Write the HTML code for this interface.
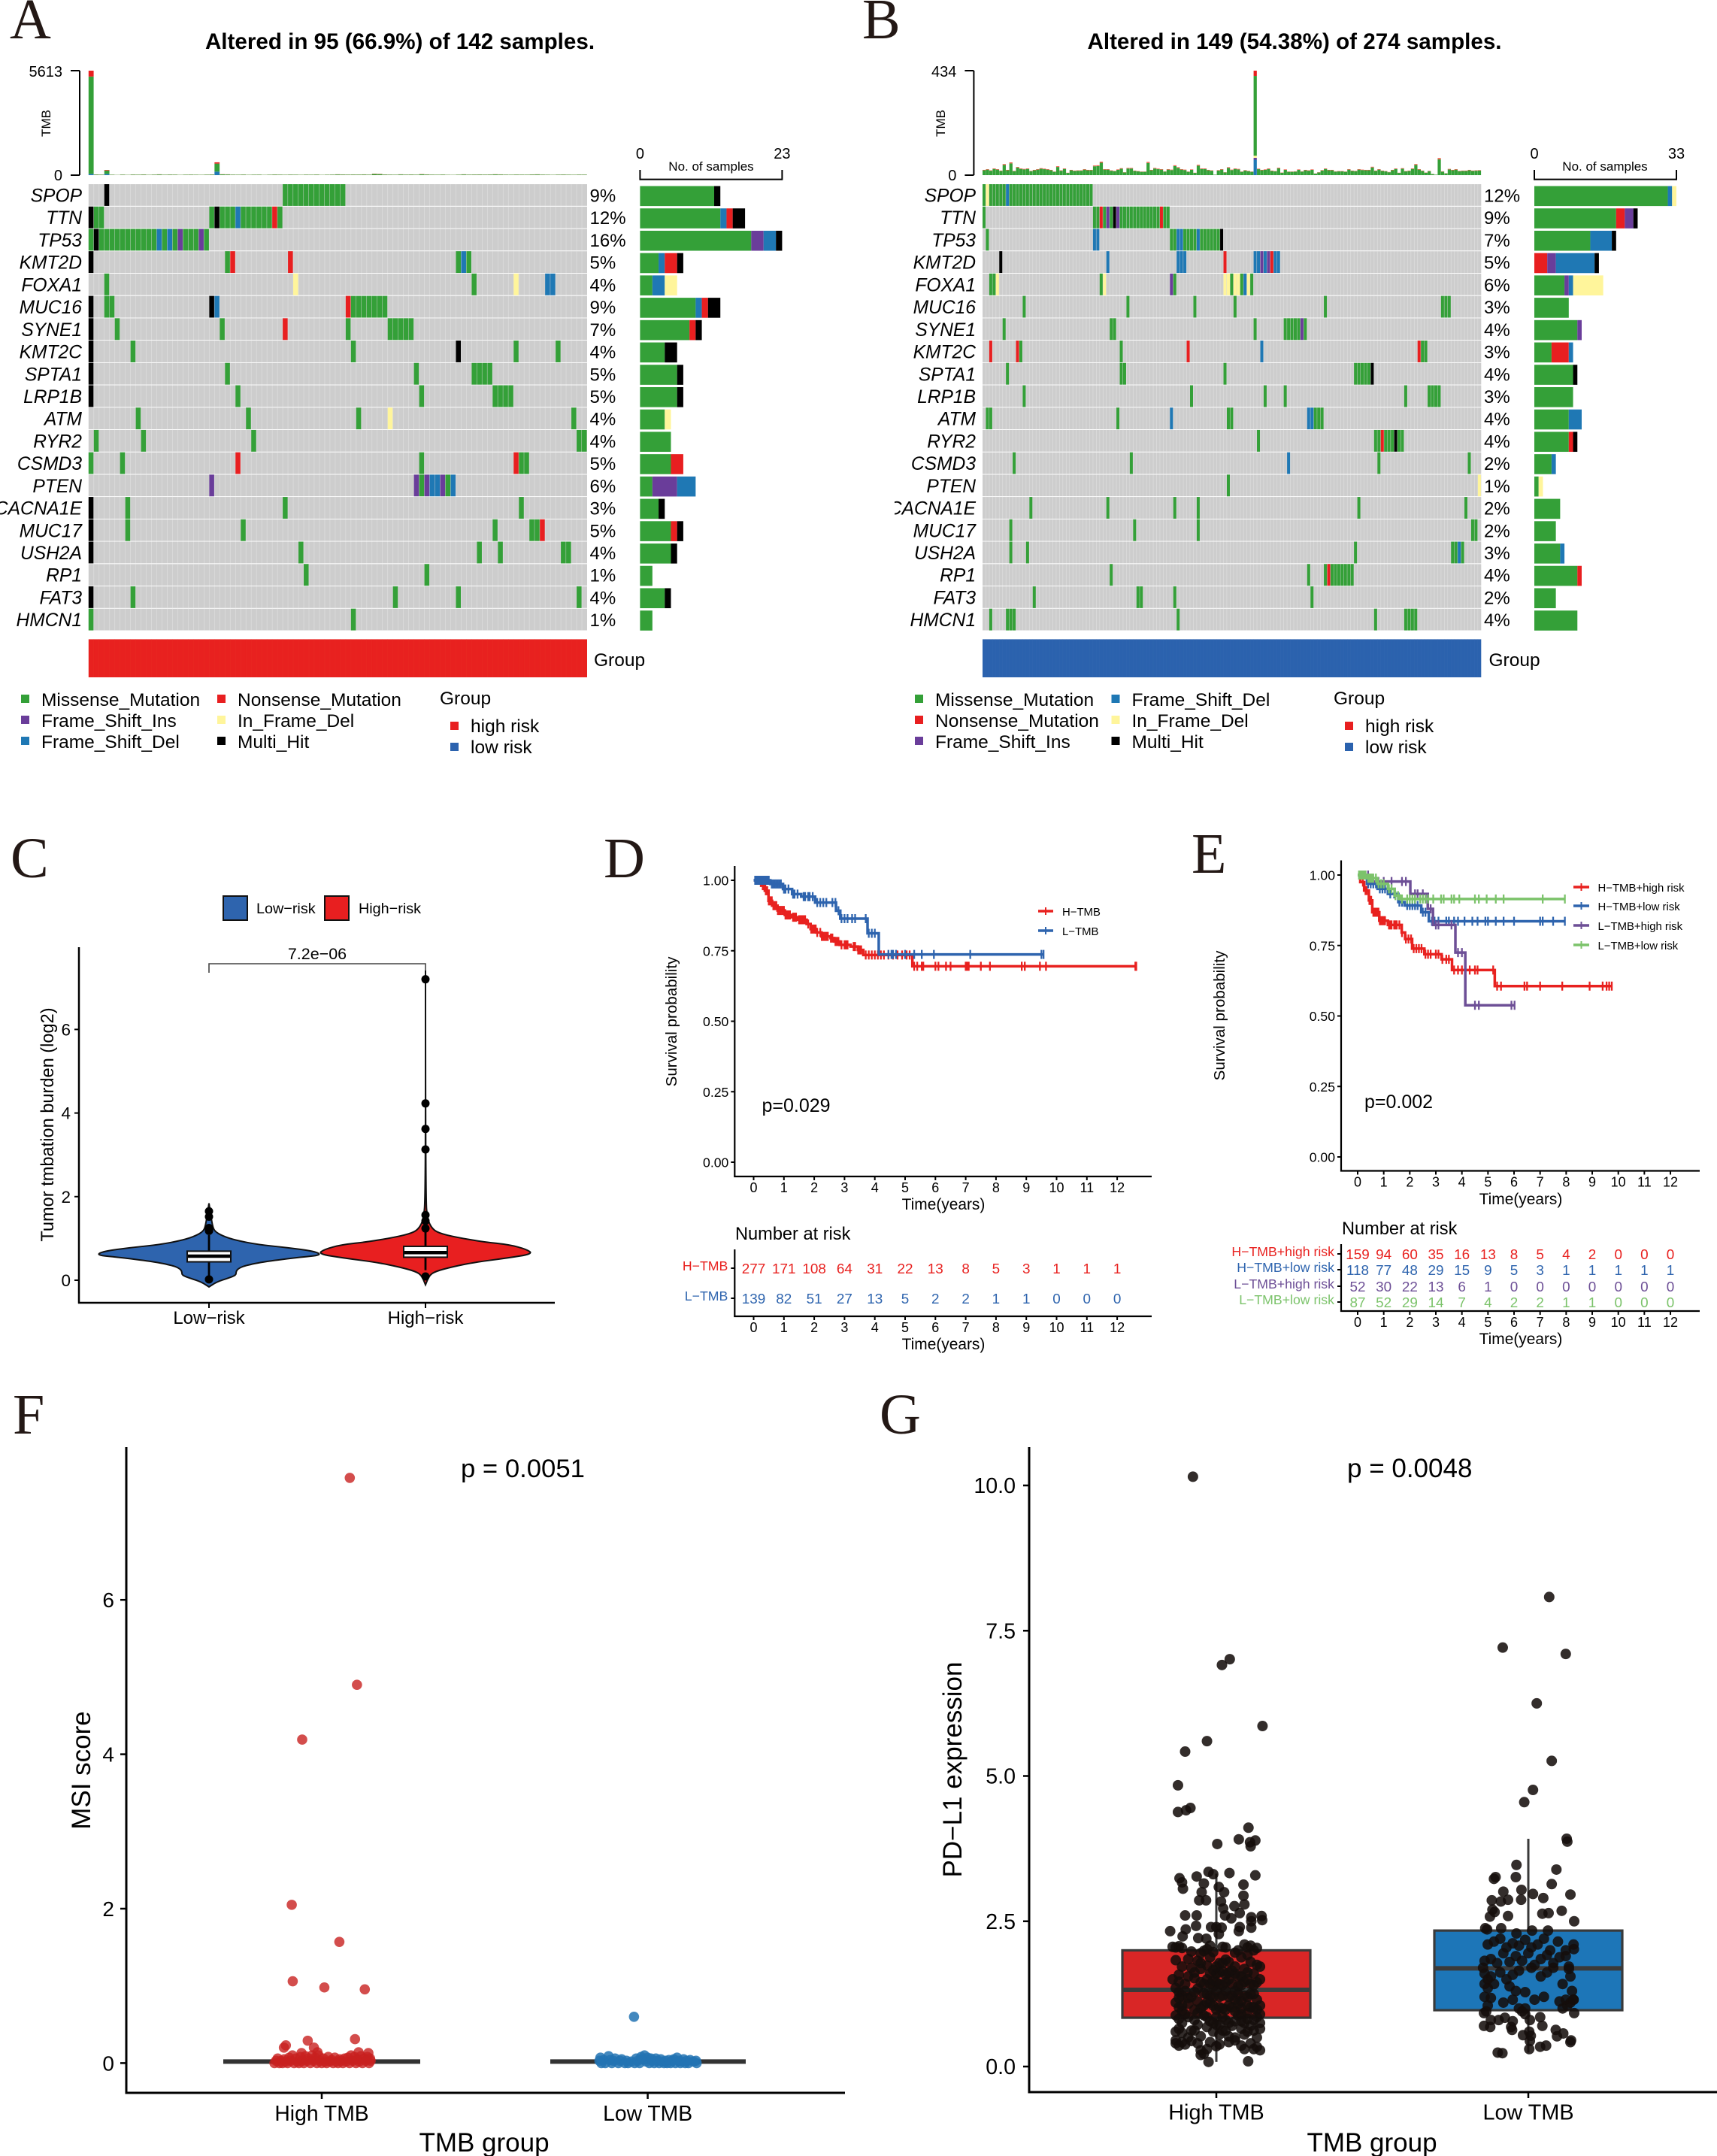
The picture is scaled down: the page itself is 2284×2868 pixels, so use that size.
<!DOCTYPE html>
<html lang="en">
<head>
<meta charset="utf-8">
<title>TMB analysis figure</title>
<style>
html,body{margin:0;padding:0;background:#fff}
svg{display:block}
text{font-family:"Liberation Sans",Arial,sans-serif;fill:#000}
.letter{font-family:"Liberation Serif","Times New Roman",serif;font-size:76px;fill:#231815}
</style>
</head>
<body>
<svg id="figure" xmlns="http://www.w3.org/2000/svg" width="2284" height="2868" viewBox="0 0 2284 2868">
<defs><clipPath id="clipB"><rect x="1190" y="0" width="1094" height="900"/></clipPath></defs>
<rect x="0" y="0" width="2284" height="2868" fill="#fff"/>

<g id="panelA">
<text class="letter" x="13" y="51">A</text>
<text x="532" y="65" text-anchor="middle" font-size="29.6" font-weight="bold">Altered in 95 (66.9%) of 142 samples.</text>
<text transform="translate(67,164) rotate(-90)" text-anchor="middle" font-size="17">TMB</text>
<text x="946" y="227" text-anchor="middle" font-size="17">No. of samples</text>
<text x="790" y="886" font-size="24.5">Group</text>
<rect x="28" y="924" width="11" height="11" fill="#34a038"/>
<text x="55" y="939" font-size="24.5">Missense_Mutation</text>
<rect x="28" y="952" width="11" height="11" fill="#6a3d9a"/>
<text x="55" y="967" font-size="24.5">Frame_Shift_Ins</text>
<rect x="28" y="980" width="11" height="11" fill="#1f78b4"/>
<text x="55" y="995" font-size="24.5">Frame_Shift_Del</text>
<rect x="289" y="924" width="11" height="11" fill="#e81f20"/>
<text x="316" y="939" font-size="24.5">Nonsense_Mutation</text>
<rect x="289" y="952" width="11" height="11" fill="#fff59b"/>
<text x="316" y="967" font-size="24.5">In_Frame_Del</text>
<rect x="289" y="980" width="11" height="11" fill="#000"/>
<text x="316" y="995" font-size="24.5">Multi_Hit</text>
<text x="585" y="937" font-size="24.5">Group</text>
<rect x="599" y="960" width="11" height="11" fill="#e81f20"/>
<text x="626" y="974" font-size="24.5">high risk</text>
<rect x="599" y="988" width="11" height="11" fill="#2b62ae"/>
<text x="626" y="1002" font-size="24.5">low risk</text>
</g>

<g id="panelB">
<text class="letter" x="1147" y="51">B</text>
<text x="1722" y="65" text-anchor="middle" font-size="29.6" font-weight="bold">Altered in 149 (54.38%) of 274 samples.</text>
<text transform="translate(1257,164) rotate(-90)" text-anchor="middle" font-size="17">TMB</text>
<text x="2135" y="227" text-anchor="middle" font-size="17">No. of samples</text>
<text x="1980.5" y="886" font-size="24.5">Group</text>
<rect x="1217" y="924" width="11" height="11" fill="#34a038"/>
<text x="1244" y="939" font-size="24.5">Missense_Mutation</text>
<rect x="1217" y="952" width="11" height="11" fill="#e81f20"/>
<text x="1244" y="967" font-size="24.5">Nonsense_Mutation</text>
<rect x="1217" y="980" width="11" height="11" fill="#6a3d9a"/>
<text x="1244" y="995" font-size="24.5">Frame_Shift_Ins</text>
<rect x="1478.5" y="924" width="11" height="11" fill="#1f78b4"/>
<text x="1505.5" y="939" font-size="24.5">Frame_Shift_Del</text>
<rect x="1478.5" y="952" width="11" height="11" fill="#fff59b"/>
<text x="1505.5" y="967" font-size="24.5">In_Frame_Del</text>
<rect x="1478.5" y="980" width="11" height="11" fill="#000"/>
<text x="1505.5" y="995" font-size="24.5">Multi_Hit</text>
<text x="1774" y="937" font-size="24.5">Group</text>
<rect x="1789" y="960" width="11" height="11" fill="#e81f20"/>
<text x="1816" y="974" font-size="24.5">high risk</text>
<rect x="1789" y="988" width="11" height="11" fill="#2b62ae"/>
<text x="1816" y="1002" font-size="24.5">low risk</text>
</g>

<g id="panelC">
<text class="letter" x="14" y="1167">C</text>
<rect x="297" y="1192" width="32" height="32" fill="#2e64ae" stroke="#111" stroke-width="2"/>
<text x="341" y="1215" font-size="19.8">Low−risk</text>
<rect x="432" y="1192" width="32" height="32" fill="#e81f20" stroke="#111" stroke-width="2"/>
<text x="477" y="1215" font-size="19.8">High−risk</text>
<text transform="translate(71,1496) rotate(-90)" text-anchor="middle" font-size="23.6">Tumor tmbation burden (log2)</text>
<text x="422" y="1276" text-anchor="middle" font-size="21.5">7.2e−06</text>
</g>

<g id="panelD">
<text class="letter" x="803" y="1167">D</text>
<text transform="translate(900,1359) rotate(-90)" text-anchor="middle" font-size="20.6">Survival probability</text>
<text x="1255" y="1609" text-anchor="middle" font-size="20.9">Time(years)</text>
<text x="1013.5" y="1479" font-size="25">p=0.029</text>
<text x="1413" y="1218" font-size="14.9">H−TMB</text>
<text x="1413" y="1244" font-size="14.9">L−TMB</text>
<text x="978" y="1649" font-size="23.6">Number at risk</text>
<text x="1255" y="1795" text-anchor="middle" font-size="20.9">Time(years)</text>
</g>

<g id="panelE">
<text class="letter" x="1585" y="1161">E</text>
<text transform="translate(1629,1351) rotate(-90)" text-anchor="middle" font-size="20.6">Survival probability</text>
<text x="2023" y="1602" text-anchor="middle" font-size="20.9">Time(years)</text>
<text x="1815" y="1474" font-size="25">p=0.002</text>
<text x="2125.5" y="1186" font-size="14.9">H−TMB+high risk</text>
<text x="2125.5" y="1211" font-size="14.9">H−TMB+low risk</text>
<text x="2125.5" y="1237" font-size="14.9">L−TMB+high risk</text>
<text x="2125.5" y="1263" font-size="14.9">L−TMB+low risk</text>
<text x="1785" y="1642" font-size="23.6">Number at risk</text>
<text x="2023" y="1788" text-anchor="middle" font-size="20.9">Time(years)</text>
</g>

<g id="panelF">
<text class="letter" x="17" y="1907">F</text>
<text transform="translate(120,2355) rotate(-90)" text-anchor="middle" font-size="35">MSI score</text>
<text x="644" y="2862" text-anchor="middle" font-size="35">TMB group</text>
<text x="613" y="1965" font-size="34.7">p = 0.0051</text>
</g>

<g id="panelG">
<text class="letter" x="1170" y="1907">G</text>
<text transform="translate(1279,2354) rotate(-90)" text-anchor="middle" font-size="35">PD−L1 expression</text>
<text x="1825" y="2862" text-anchor="middle" font-size="35">TMB group</text>
<text x="1792" y="1965" font-size="35">p = 0.0048</text>
</g>
</svg>

<script>
/* ===== Panel A / B oncoplot data ===== */
const genesA = ["SPOP","TTN","TP53","KMT2D","FOXA1","MUC16","SYNE1","KMT2C","SPTA1","LRP1B","ATM","RYR2","CSMD3","PTEN","CACNA1E","MUC17","USH2A","RP1","FAT3","HMCN1"];
const pctA = ["9%","12%","16%","5%","4%","9%","7%","4%","5%","5%","4%","4%","5%","6%","3%","5%","4%","1%","4%","1%"];
const mutsA = [
 [[3,'k',1],[37,'g',12]],
 [[0,'k',1],[1,'g',2],[23,'g',1],[24,'k',1],[25,'g',3],[28,'b',1],[29,'g',6],[35,'r',1],[36,'g',1]],
 [[0,'g',1],[1,'k',1],[2,'g',11],[13,'b',1],[14,'g',1],[15,'b',1],[16,'g',1],[17,'p',1],[18,'g',3],[21,'p',1],[22,'g',1]],
 [[0,'k',1],[26,'g',1],[27,'r',1],[38,'r',1],[70,'g',1],[71,'b',1],[72,'g',1]],
 [[3,'g',1],[39,'y',1],[73,'g',1],[81,'y',1],[87,'b',2]],
 [[0,'k',1],[3,'g',2],[23,'k',1],[24,'b',1],[49,'r',1],[50,'g',7]],
 [[0,'k',1],[5,'g',1],[25,'g',1],[37,'r',1],[49,'g',1],[57,'g',5]],
 [[0,'k',1],[8,'g',1],[50,'g',1],[70,'k',1],[81,'g',1],[89,'g',1]],
 [[0,'k',1],[26,'g',1],[62,'g',1],[73,'g',4]],
 [[0,'k',1],[28,'g',1],[63,'g',1],[77,'g',4]],
 [[9,'g',1],[30,'g',1],[51,'g',1],[57,'y',1],[92,'g',1]],
 [[1,'g',1],[10,'g',1],[31,'g',1],[93,'g',2]],
 [[0,'g',1],[6,'g',1],[28,'r',1],[63,'g',1],[81,'r',1],[82,'g',2]],
 [[23,'p',1],[62,'p',1],[63,'g',1],[64,'p',1],[65,'b',2],[67,'p',1],[68,'g',1],[69,'b',1]],
 [[0,'k',1],[7,'g',1],[37,'g',1],[82,'g',1]],
 [[0,'k',1],[7,'g',1],[29,'g',1],[77,'g',1],[84,'g',2],[86,'r',1]],
 [[0,'k',1],[40,'g',1],[74,'g',1],[78,'g',1],[90,'g',2]],
 [[41,'g',1],[64,'g',1]],
 [[0,'k',1],[8,'g',1],[58,'g',1],[70,'g',1],[93,'g',1]],
 [[0,'g',1],[50,'g',1]]
];
const sideAGreen  = [12,13,18,3,2,9,8,4,6,6,4,5,5,2,3,5,5,2,4,2];
const sideAPurple = [0,0,2,0,0,0,0,0,0,0,0,0,0,4,0,0,0,0,0,0];
const sideABlue   = [0,1,2,1,2,1,0,0,0,0,0,0,0,3,0,0,0,0,0,0];
const sideARed    = [0,1,0,2,0,1,1,0,0,0,0,0,2,0,0,1,0,0,0,0];
const sideAYellow = [0,0,0,0,2,0,0,0,0,0,1,0,0,0,0,0,0,0,0,0];
const sideABlack  = [1,2,1,1,0,2,1,2,1,1,0,0,0,0,1,1,1,0,1,0];
const tmbATotal = [5613,40,30,280,25,15,30,20,35,28,40,22,30,45,25,35,30,20,28,32,25,22,30,40,690,50,45,30,25,35,22,28,30,20,25,38,30,24,32,28,22,30,26,34,20,25,30,45,40,32,38,35,42,30,80,70,40,30,25,45,32,38,28,60,42,30,26,34,22,20,28,45,30,36,40,32,38,48,42,30,26,35,30,28,40,45,32,25,22,30,36,28,24,32,30];
const tmbASpikeCols = [0,3,24];
const tmbASpikeNonsense = [316,30,70];
const tmbASpikeFrame = [70,70,190];

const genesB = ["SPOP","TTN","TP53","KMT2D","FOXA1","MUC16","SYNE1","KMT2C","SPTA1","LRP1B","ATM","RYR2","CSMD3","PTEN","CACNA1E","MUC17","USH2A","RP1","FAT3","HMCN1"];
const pctB = ["12%","9%","7%","5%","6%","3%","4%","3%","4%","3%","4%","4%","2%","1%","2%","2%","3%","4%","2%","4%"];
const mutsB = [
 [[0,'g',1],[1,'y',1],[2,'g',5],[7,'b',1],[8,'g',25]],
 [[0,'g',1],[33,'g',2],[35,'r',1],[36,'g',1],[37,'p',1],[38,'g',1],[39,'k',1],[40,'p',1],[41,'g',12],[53,'r',1],[54,'g',2]],
 [[1,'g',1],[33,'b',2],[56,'g',2],[58,'b',2],[60,'g',4],[64,'b',1],[65,'g',6],[71,'k',1]],
 [[5,'k',1],[37,'b',1],[58,'b',3],[72,'r',1],[81,'b',2],[83,'p',1],[84,'b',1],[85,'p',1],[86,'r',1],[87,'b',2]],
 [[2,'g',2],[4,'y',1],[35,'g',1],[36,'y',1],[56,'p',1],[57,'g',1],[72,'y',2],[74,'g',1],[75,'y',2],[77,'g',1],[78,'b',1],[79,'y',1],[80,'g',1]],
 [[12,'g',1],[43,'g',1],[63,'g',1],[75,'g',1],[102,'g',1],[137,'g',3]],
 [[6,'g',1],[38,'g',2],[81,'g',1],[90,'g',5],[95,'p',1],[96,'g',1]],
 [[2,'r',1],[10,'r',1],[11,'g',1],[41,'g',1],[61,'r',1],[83,'b',1],[130,'r',1],[131,'g',2]],
 [[7,'g',1],[41,'g',2],[72,'g',1],[111,'g',5],[116,'k',1]],
 [[12,'g',1],[62,'g',1],[84,'g',1],[90,'g',1],[126,'g',1],[133,'g',4]],
 [[1,'g',2],[40,'g',1],[56,'b',1],[73,'g',2],[97,'b',2],[99,'g',3]],
 [[82,'g',1],[117,'g',2],[119,'r',1],[120,'g',3],[123,'k',1],[124,'g',2]],
 [[9,'g',1],[44,'g',1],[91,'b',1],[118,'g',1],[145,'g',1]],
 [[73,'g',1],[148,'y',1]],
 [[14,'g',1],[37,'g',1],[57,'g',1],[64,'g',1],[112,'g',1],[144,'g',1]],
 [[8,'g',1],[45,'g',1],[64,'g',1],[146,'g',2]],
 [[8,'g',1],[13,'g',1],[111,'g',1],[140,'g',2],[142,'b',1],[143,'g',1]],
 [[38,'g',1],[97,'g',1],[102,'g',1],[103,'r',1],[104,'g',7]],
 [[15,'g',1],[46,'g',2],[57,'g',1],[98,'g',1]],
 [[2,'g',1],[7,'g',3],[58,'g',1],[117,'g',1],[126,'g',4]]
];
const sideBGreen  = [31,19,13,0,7,8,10,4,9,9,8,8,4,1,6,5,6,10,5,10];
const sideBRed    = [0,2,0,3,0,0,0,4,0,0,0,1,0,0,0,0,0,1,0,0];
const sideBPurple = [0,2,0,2,1,0,1,0,0,0,0,0,0,0,0,0,0,0,0,0];
const sideBBlue   = [1,0,5,9,1,0,0,1,0,0,3,0,1,0,0,0,1,0,0,0];
const sideBYellow = [1,0,0,0,7,0,0,0,0,0,0,0,0,1,0,0,0,0,0,0];
const sideBBlack  = [0,1,1,1,0,0,0,0,1,0,0,1,0,0,0,0,0,0,0,0];
const tmbBTotal = [22,25,20,28,25,19,46,22,53,18,34,28,26,28,18,22,25,29,27,25,22,15,37,20,28,10,22,19,20,20,25,22,22,40,41,56,25,25,20,18,24,29,12,30,30,19,17,15,15,55,22,30,27,25,16,25,23,41,33,25,23,15,24,10,43,28,28,22,20,2,21,25,12,33,23,28,26,15,21,18,15,434,27,22,24,28,19,17,31,11,24,15,15,16,24,16,22,20,24,7,12,21,28,22,22,16,17,17,15,25,19,18,25,23,22,22,35,19,25,19,17,13,22,28,10,29,17,19,28,46,25,19,11,18,5,2,71,16,8,26,22,25,18,19,19,22,19,20,21];
const tmbBSpikeCols = [81];
const tmbBSpikeNonsense = [22];
const tmbBSpikeFrame = [64];
const tmbBSpikeIns = [8];
const tmbBSpikeInFrame = [9];

/* ===== Panel C violin data ===== */
const violinCategories = ["Low−risk","High−risk"];
const violinYTicks = [0,2,4,6];
const violinLowValue = [1.84,1.67,1.31,1.17,1.06,.96,.85,.78,.69,.60,.55,.45,.35,.28,.21,.12,.05,-.04,-.16];
const violinLowDensity = [0,.01,.03,.05,.12,.23,.44,.70,.94,1,.81,.5,.32,.26,.24,.24,.17,.07,0];
const violinHighValue = [7.41,1.95,1.45,1.24,1.13,1.03,.92,.85,.74,.63,.53,.43,.32,.21,.11,-.11];
const violinHighDensity = [0,0,.02,.06,.12,.28,.53,.78,.94,1,.76,.46,.25,.09,.035,0];
const violinLowOutliers = [.02,1.65,1.52,1.25,1.22,1.18];
const violinHighOutliers = [7.2,4.23,3.62,3.13,1.56,1.42,1.24,.09];
const violinLowBox = [.44,.575,.695,.05,1.08];
const violinHighBox = [.55,.66,.81,.24,1.26];

/* ===== Panel D survival data ===== */
const yearTicks = [0,1,2,3,4,5,6,7,8,9,10,11,12];
const survTicks = [0,.25,.5,.75,1];
const survTickLabels = ["0.00","0.25","0.50","0.75","1.00"];
const dHighTime = [0,.13,.25,.37,.49,.61,.79,1.03,1.27,1.45,1.75,1.88,2.06,2.24,2.54,2.66,2.84,3.2,3.44,3.62,5.24];
const dHighSurv = [1,1,.981,.963,.927,.91,.893,.877,.869,.86,.845,.827,.815,.801,.795,.783,.771,.765,.753,.735,.695];
const dHighEnd = 12.63;
const dHighCensor = [.3,.35,.4,.45,.5,.55,.6,.65,.7,.75,.8,.85,.9,.95,1,1.05,1.1,1.15,1.2,1.3,1.35,1.4,1.5,1.55,1.6,1.65,1.7,1.8,1.9,1.95,2,2.05,2.1,2.2,2.25,2.3,2.35,2.4,2.45,2.55,2.6,2.7,2.75,2.8,2.9,3,3.05,3.1,3.3,3.35,3.45,3.5,3.55,3.7,3.8,3.9,4,4.1,4.2,4.3,4.45,4.6,4.75,4.9,5.05,5.15,5.3,5.4,5.55,5.6,6,6.1,6.35,6.5,7,7.05,7.1,7.5,7.8,8.85,8.95,9.45,9.65,12.6];
const dLowTime = [0,.55,.97,1.27,1.57,2.03,2.72,2.86,3.76,4.13];
const dLowSurv = [1,.987,.969,.951,.942,.921,.892,.864,.812,.737];
const dLowEnd = 9.57;
const dLowCensor = [.05,.1,.15,.2,.25,.3,.35,.4,.45,.5,.6,.65,.7,.75,.8,.85,.9,1,1.05,1.15,1.3,1.35,1.45,1.65,1.7,1.8,1.85,1.95,2.1,2.2,2.3,2.4,2.6,2.7,2.8,2.9,3,3.1,3.25,3.35,3.7,3.8,3.9,4,4.45,4.55,4.6,4.7,5,5.3,5.55,5.95,7.15,9.5];
const riskDHigh = [277,171,108,64,31,22,13,8,5,3,1,1,1];
const riskDLow = [139,82,51,27,13,5,2,2,1,1,0,0,0];

/* ===== Panel E survival data ===== */
const eRedTime = [0,.1,.25,.43,.56,.83,1.16,1.69,1.82,2.09,2.56,3.22,3.62,5.26];
const eRedSurv = [1,.975,.945,.91,.868,.838,.823,.796,.773,.739,.719,.701,.663,.606];
const eRedEnd = 9.75;
const eRedCensor = [.2,.3,.35,.45,.5,.52,.6,.65,.7,.75,.8,.85,.9,.95,1,1.05,1.2,1.25,1.3,1.4,1.45,1.5,1.6,1.7,1.85,1.95,2.05,2.15,2.25,2.35,2.45,2.6,2.7,2.8,3,3.1,3.25,3.4,3.5,3.7,3.85,4,4.3,4.5,4.6,5.2,5.35,5.5,6.4,6.5,7,7.85,8.9,9.4,9.55,9.65];
const eBlueTime = [0,.36,.76,1.16,1.56,1.8,2.44,2.73];
const eBlueSurv = [1,.969,.951,.933,.904,.892,.868,.836];
const eBlueEnd = 7.95;
const eBlueCensor = [.1,.2,.3,.4,.5,.6,.7,.85,.95,1.05,1.25,1.4,1.6,1.7,1.9,2,2.1,2.2,2.3,2.5,2.6,2.85,2.95,3.1,3.4,3.5,3.7,3.85,4.1,4.4,4.6,4.9,5,5.3,5.6,6,7,7.1,7.5];
const ePurpleTime = [0,.43,2.02,2.69,2.89,3.75,4.13];
const ePurpleSurv = [1,.977,.933,.88,.823,.725,.538];
const ePurpleEnd = 6.02;
const ePurpleCensor = [.1,.2,.3,.4,.8,1,1.3,1.7,1.85,2.2,2.3,2.5,2.8,3,3.1,3.6,3.85,4,4.5,4.65,5.9];
const eGreenTime = [0,.36,.76,1.16,1.42,1.62];
const eGreenSurv = [1,.989,.969,.951,.927,.915];
const eGreenEnd = 7.95;
const eGreenCensor = [.05,.1,.15,.2,.25,.3,.4,.45,.5,.55,.6,.7,.8,.9,1,1.2,1.3,1.45,1.55,1.7,1.9,2,2.1,2.2,2.4,2.5,2.6,2.7,2.9,3.2,3.3,3.6,3.7,3.9,4.5,4.65,4.95,5.3,5.6,7.1];
const riskEHighHigh = [159,94,60,35,16,13,8,5,4,2,0,0,0];
const riskEHighLow = [118,77,48,29,15,9,5,3,1,1,1,1,1];
const riskELowHigh = [52,30,22,13,6,1,0,0,0,0,0,0,0];
const riskELowLow = [87,52,29,14,7,4,2,2,1,1,0,0,0];

/* ===== Panel F MSI data: [jitter %, value] ===== */
const msiCategories = ["High TMB","Low TMB"];
const msiTicks = [0,2,4,6];
const msiHighPoints = [[8.6,7.58],[10.8,4.9],[-6,4.19],[-9.2,2.05],[5.4,1.57],[-8.9,1.06],[.8,.98],[13.2,.955],[10.2,.31],[-4.3,.29],[-11,.23],[-11.6,.2],[-2.4,.2],[-1.3,.14],[11.3,.14],[14.3,.13],[-6.2,.13],[-14.5,0],[-14,.03],[-13.5,.06],[-13,0],[-12.5,.03],[-12,0],[-11.5,.05],[-11,.02],[-10.5,0],[-10,.07],[-9.5,.03],[-9,.1],[-8.5,0],[-8,.06],[-7.5,.02],[-7,0],[-6.5,.08],[-6,.03],[-5.5,0],[-5,.09],[-4.5,.03],[-4,.06],[-3.5,0],[-3,.1],[-2.5,.03],[-2,.07],[-1.5,0],[-1,.1],[-.5,.03],[0,0],[.5,.06],[1,.02],[1.5,0],[2,.08],[2.5,.02],[3,.04],[3.5,0],[4,.07],[4.5,.02],[5,0],[5.5,.05],[6,.03],[6.5,0],[7,.06],[7.5,.02],[8,.07],[8.5,0],[9,.1],[9.5,.03],[10,.08],[10.5,0],[11,.05],[11.5,.02],[12,.09],[12.5,0],[13,.06],[13.5,.03],[14,.08],[14.5,0],[15,.03],[14.8,.06]];
const msiLowPoints = [[-4.2,.6],[-14.5,.07],[-14.8,.03],[-14.2,0],[-13.5,.04],[-13,0],[-12,.09],[-11.5,.04],[-11,0],[-10.5,.03],[-10,.06],[-9,0],[-8.5,.03],[-8,.05],[-7,0],[-6.5,.03],[-6,0],[-5,.02],[-4,0],[-3.5,.06],[-3,.03],[-2.5,0],[-2,.08],[-1.5,.05],[-1,.1],[-.5,.02],[0,.07],[.5,0],[1,.06],[1.5,.03],[2,0],[2.5,.06],[3,.03],[3.5,0],[4,.05],[4.5,.02],[5,0],[5.5,.03],[6,0],[6.5,.04],[7,0],[7.5,.03],[8,.05],[8.5,0],[9,.07],[9.5,.03],[10,0],[10.5,.02],[11,.05],[11.5,0],[12,.03],[12.5,0],[13,.04],[14,.02],[14.8,.03],[15,0]];
const msiHighMedian = 0.02;
const msiLowMedian = 0.02;

/* ===== Panel G PD-L1 data: [jitter %, value] ===== */
const pdCategories = ["High TMB","Low TMB"];
const pdTicks = [0,2.5,5,7.5,10];
const pdTickLabels = ["0.0","2.5","5.0","7.5","10.0"];
const pdHighBox = [.84,1.32,2.0,.08,3.32];
const pdLowBox = [.97,1.69,2.34,.24,3.92];
const pdHighPoints = [[-7.5,10.15],[4.3,7.01],[1.8,6.91],[14.8,5.86],[-3,5.6],[-10,5.42],[-12.3,4.84],[-8.3,4.45],[-9.7,4.41],[-12.3,4.38],[10.3,4.11],[7.2,3.91],[12.5,3.89],[10.8,3.86],[11,3.79],[.3,3.83],[-2.5,3.35],[4.2,3.33],[-1,3.31],[-6.3,3.27],[12.5,3.29],[-11.8,3.24],[-11,3.17],[8.7,3.13],[-10.7,3.06],[-4,3.15],[-4.7,3],[.8,3.09],[2.5,3],[8.7,2.94],[-3.3,2.86],[-5.5,2.86],[1.5,2.84],[9,2.79],[5.8,2.76],[2.2,2.72],[7.5,2.64],[2.8,2.6],[4.8,2.55],[-10,2.6],[-6.3,2.6],[11.2,2.57],[14.5,2.59],[14.7,2.52],[11.2,2.5],[7.5,2.4],[7.2,2.33],[11.2,2.39],[-1.7,2.4],[0,2.4],[1.7,2.39],[-6.5,2.42],[-9.8,2.36],[-14.8,2.33],[-10.8,2.24],[-5.8,2.21],[.8,2.28],[-3.2,2.2],
[-14,2.06],[-13,2.05],[-12,2.07],[-11,2.04],[-2,2.08],[-3,2.02],[2,2.06],[3,2.05],[9,2.1],[10,2.05],[11,2.08],[12,2],[13,2.04],[-8,1.98],[-5,1.95],[-4,1.99],[-1,1.97],[6,1.96],[7,2],[10,1.92],[-13,1.83],[-9,1.85],[-6,1.82],[-2,1.88],[1,1.78],[3,1.84],[4,1.8],[8,1.88],[11,1.8],[13,1.75],[14,1.72],
[-11,1.72],[-8,1.7],[-5,1.68],[-3,1.74],[-1,1.66],[0,1.6],[1,1.62],[2,1.64],[3,1.58],[5,1.65],[6,1.6],[8,1.55],[9,1.68],[10,1.62],[12,1.6],[-14,1.5],[-12,1.46],[-9,1.55],[-7,1.52],[-5,1.45],[-3,1.5],[-2,1.42],[-1,1.38],[0,1.45],[2,1.4],[4,1.5],[7,1.38],[9,1.46],[11,1.42],[13,1.45],[14,1.5],
[-13,1.35],[-12,1.28],[-11,1.22],[-10,1.3],[-8,1.2],[-6,1.34],[-4,1.26],[-2,1.22],[1,1.2],[3,1.3],[5,1.22],[6,1.15],[7,1.25],[8,1.12],[10,1.2],[12,1.25],[13,1.15],[14,1.05],[-13,1.1],[-12,1.02],[-11,.95],[-9,1.08],[-7,.98],[-5,1],[-3,1.1],[-1,1.05],[0,.98],[2,1],[4,1.05],[6,.95],[8,1],[10,.92],[11,1.02],[13,.98],[14,.9],
[-13,.88],[-12,.82],[-11,.75],[-9,.85],[-7,.8],[-6,.72],[-4,.88],[-2,.78],[0,.85],[1,.72],[3,.8],[5,.7],[7,.88],[8,.78],[10,.82],[11,.7],[13,.85],[14,.75],[-13,.6],[-12,.65],[-11,.58],[-9,.5],[-7,.62],[-5,.52],[-3,.68],[-1,.6],[1,.55],[2,.62],[4,.52],[6,.5],[8,.65],[9,.55],[10,.6],[12,.62],[13,.5],[14,.65],
[-13,.4],[-13,.45],[-12,.36],[-11,.42],[-10,.38],[-8,.44],[-6,.4],[-5,.2],[-5,.28],[-4,.22],[-3,.3],[-2,.42],[0,.35],[1,.38],[4,.42],[6,.45],[8,.36],[9,.3],[11,.4],[12,.3],[13,.34],[14,.28],[-2.5,.08],[10.2,.09],
[-12,1.58],[-10,1.42],[-9,1.18],[-7,1.28],[-7,1.62],[-6,1.12],[-5,1.78],[-4,1.42],[-4,1.05],[-3,1.25],[-2,1.6],[-2,1.1],[-1,1.48],[-1,1.2],[0,1.72],[0,1.3],[0,.72],[1,1.42],[1,1.02],[2,1.78],[2,1.22],[2,.85],[3,1.45],[3,.98],[4,1.62],[4,1.2],[4,.75],[5,1.42],[5,1.02],[6,1.72],[6,1.3],[7,1.55],[7,1.08],[8,1.4],[8,.9],[9,1.22],[9,.75],[10,1.5],[10,1.05],[11,1.25],[12,1.4],[12,1.02],[12,.8],[-11,1.05],[-10,.9],[-12,1.18],[-8,.62],[-6,.92],[-3,.85],[-1,.75],[6,.78],[3,.62]];
const pdLowPoints = [[6.7,8.08],[-8.2,7.21],[12,7.1],[2.7,6.25],[7.5,5.26],[1.5,4.76],[-1.3,4.55],[12.3,3.92],[12.5,3.87],[-3.8,3.47],[9,3.39],[-10.5,3.26],[-11,3.23],[-4,3.26],[7.5,3.14],[-2.2,3.04],[-8,3.01],[1.5,2.97],[13.5,2.96],[4.8,2.9],[-11.7,2.86],[-8.8,2.84],[-6.5,2.87],[-2.3,2.87],[-11.5,2.7],[-10.8,2.66],[10.7,2.68],[4.5,2.63],[6.5,2.64],[-12.3,2.58],[-6.5,2.59],[14.7,2.5],[-13.8,2.38],[-13.2,2.36],[-8.7,2.38],[6.3,2.34],[1.2,2.34],[-3.8,2.29],
[-13,2.1],[-11,2.15],[-9,2.2],[-7,2.05],[-5,2.12],[-3,2.08],[-1,2.18],[1,2.05],[3,2.1],[5,2.2],[7,2],[9.5,2.15],[12,2],[14.5,2.1],[14.6,2.02],[-14,1.82],[-12,1.85],[-10,1.78],[-8,1.95],[-6,1.8],[-4,1.9],[-2,1.82],[0,1.95],[2,1.75],[4,1.85],[6,1.92],[8,1.78],[10,1.88],[12,1.9],[13,1.72],
[-14.5,1.7],[-14,1.6],[-13,1.5],[-12,1.55],[-9,1.62],[-7,1.5],[-5,1.58],[-3,1.65],[1,1.7],[4,1.55],[6,1.62],[8,1.7],[13,1.68],[13.5,1.55],[-14,1.42],[-13,1.35],[-11,1.42],[-6,1.38],[-4,1.3],[-1,1.28],[11,1.42],[14,1.3],[14.5,1.15],
[-14,1.2],[-12,1.18],[-13,1.05],[-13.5,.95],[-8,1.1],[-5,1.15],[-2,.95],[-3,1],[-1,1],[2,1.15],[5,1.2],[10,1.12],[11,1],[12,1.15],[12.5,1.05],[13.5,1.1],[14.5,1.15],[14.7,.92],[-14.2,.92],[-12,.8],[-9.5,.8],[-7.5,.84],[-5,.78],[-1,.9],[3.8,.85],[.5,.8],[4.5,.7],[-14.2,.7],[-12.2,.68],[-5.5,.68],[-5.2,.63],[8.8,.63],[11.2,.57],[9.2,.52],[-1.7,.54],[.3,.6],[.8,.53],[.5,.44],[13.7,.45],[13.5,.42],[5.7,.36],[3.8,.34],[-9.8,.24],[-8.3,.23],[.3,.3]];

/* ===== Helpers ===== */
const NS = "http://www.w3.org/2000/svg";
const COLORS = {g:"#34a038",r:"#e81f20",p:"#6a3d9a",b:"#1f78b4",y:"#fff59b",k:"#000000"};
const TYPE_NAMES = {g:"missense",r:"nonsense",p:"frame-shift-ins",b:"frame-shift-del",y:"in-frame-del",k:"multi-hit"};
function add(parent, tag, attrs, name, text) {
  const el = document.createElementNS(NS, tag);
  for (const k in attrs) el.setAttribute(k, attrs[k]);
  
  
  if (text !== undefined) el.textContent = text;
  parent.appendChild(el);
  return el;
}
function line(p, x1, y1, x2, y2, stroke, w, name) {
  return add(p, 'line', {x1, y1, x2, y2, stroke, 'stroke-width': w}, name);
}
function label(p, x, y, txt, size, anchor, fill, name, extra) {
  const attrs = {x, y, 'font-size': size, 'text-anchor': anchor || 'start'};
  if (fill) attrs.style = 'fill:' + fill;
  if (extra) Object.assign(attrs, extra);
  return add(p, 'text', attrs, name, txt);
}

/* ===== Oncoplot drawing ===== */
function oncoplot(cfg) {
  const g = cfg.g, cw = (cfg.right - cfg.left) / cfg.cols;
  const rowTop = i => 245 + 29.72 * i;
  const rowH = 28.9;
  const tmbY = v => 233 - v / cfg.tmbMax * 139;
  // TMB bars
  const tmbG = add(g, 'g', {}, 'tmb-bars');
  cfg.tmb.forEach((v, c) => {
    const x = cfg.left + c * cw, w = cw - 0.2;
    const s = cfg.spikeCols.indexOf(c);
    let base = 0;
    if (s >= 0) {
      const f = cfg.spikeFrame[s];
      add(tmbG, 'rect', {x, y: tmbY(f), width: w, height: tmbY(0) - tmbY(f), fill: COLORS.b}, 'tmb-frame-shift-segment');
      base = f;
      if (cfg.spikeIns) {
        const t = base + cfg.spikeIns[s];
        add(tmbG, 'rect', {x, y: tmbY(t), width: w, height: tmbY(base) - tmbY(t), fill: COLORS.p}, 'tmb-insertion-segment');
        base = t;
        const t2 = base + cfg.spikeInFrame[s];
        add(tmbG, 'rect', {x, y: tmbY(t2), width: w, height: tmbY(base) - tmbY(t2), fill: COLORS.y}, 'tmb-in-frame-segment');
        base = t2;
      }
    }
    const nons = s >= 0 ? cfg.spikeNonsense[s] : v * cfg.topShare;
    const gt = v - nons;
    add(tmbG, 'rect', {x, y: tmbY(gt), width: w, height: Math.max(0, tmbY(base) - tmbY(gt)), fill: COLORS.g}, 'tmb-missense-segment');
    add(tmbG, 'rect', {x, y: tmbY(v), width: w, height: tmbY(gt) - tmbY(v), fill: s >= 0 ? COLORS.r : '#ee5a45'}, 'tmb-nonsense-segment');
  });
  // TMB axis
  line(g, cfg.axisX, 94, cfg.axisX, 233, '#000', 2, 'tmb-axis-line');
  line(g, cfg.axisX - 12, 94, cfg.axisX, 94, '#000', 2, 'tmb-axis-tick-max');
  line(g, cfg.axisX - 12, 233, cfg.axisX, 233, '#000', 2, 'tmb-axis-tick-zero');
  label(g, cfg.axisX - 23, 102, String(cfg.tmbMax), 20, 'end', null, 'tmb-axis-max-label');
  label(g, cfg.axisX - 23, 240, '0', 20, 'end', null, 'tmb-axis-zero-label');
  // Rows
  const cells = add(g, 'g', {}, 'mutation-matrix');
  cfg.genes.forEach((gene, i) => {
    const y = rowTop(i);
    add(cells, 'rect', {x: cfg.left, y, width: cfg.right - cfg.left, height: rowH, fill: '#cdcdcd'}, 'matrix-row-background');
  });
  for (let c = 1; c < cfg.cols; c++) {
    const x = cfg.left + c * cw;
    add(cells, 'line', {x1: x, y1: 245, x2: x, y2: 839, stroke: '#dedede', 'stroke-width': 0.7}, 'matrix-column-separator');
  }
  for (let i = 0; i < 20; i++) {
    const y = rowTop(i) + rowH + 0.4;
    add(cells, 'line', {x1: cfg.left, y1: y, x2: cfg.right, y2: y, stroke: '#fff', 'stroke-width': 0.8}, 'matrix-row-separator');
  }
  cfg.muts.forEach((row, i) => {
    row.forEach(m => {
      for (let k = 0; k < m[2]; k++) {
        add(cells, 'rect', {x: cfg.left + (m[0] + k) * cw, y: rowTop(i), width: cw - 0.45, height: rowH, fill: COLORS[m[1]]}, 'mutation-cell-' + TYPE_NAMES[m[1]]);
      }
    });
  });
  // Labels
  const lab = add(g, 'g', cfg.clip ? {'clip-path': cfg.clip} : {}, 'gene-labels');
  cfg.genes.forEach((gene, i) => {
    label(lab, cfg.geneRight, rowTop(i) + 23.5, gene, 24.6, 'end', null, 'gene-label-' + gene.toLowerCase(), {'font-style': 'italic'});
    label(g, cfg.pctX, rowTop(i) + 23.5, cfg.pct[i], 24, 'start', null, 'percent-label-' + gene.toLowerCase());
  });
  // Side bars
  const sideX = v => cfg.sideLeft + v / cfg.sideMax * (cfg.sideRight - cfg.sideLeft);
  const sb = add(g, 'g', {}, 'side-bars');
  cfg.genes.forEach((gene, i) => {
    let acc = 0;
    cfg.sideOrder.forEach(s => {
      const v = s.values[i];
      if (v > 0) {
        add(sb, 'rect', {x: sideX(acc), y: rowTop(i) + 2.5, width: sideX(acc + v) - sideX(acc), height: 26.6, fill: COLORS[s.type]}, 'side-bar-' + gene.toLowerCase() + '-' + TYPE_NAMES[s.type]);
        acc += v;
      }
    });
  });
  line(g, cfg.sideLeft, 238.6, cfg.sideRight, 238.6, '#000', 2, 'samples-axis-line');
  line(g, cfg.sideLeft, 226, cfg.sideLeft, 239.6, '#000', 2, 'samples-axis-tick-zero');
  line(g, cfg.sideRight, 226, cfg.sideRight, 239.6, '#000', 2, 'samples-axis-tick-max');
  label(g, cfg.sideLeft, 211, '0', 20, 'middle', null, 'samples-axis-zero-label');
  label(g, cfg.sideRight, 211, String(cfg.sideMax), 20, 'middle', null, 'samples-axis-max-label');
  // Group bar
  add(g, 'rect', {x: cfg.left, y: 850.4, width: cfg.right - cfg.left, height: 50.6, fill: cfg.groupColor}, 'group-annotation-bar');
  for (let c = 1; c < cfg.cols; c++) {
    const x = cfg.left + c * cw;
    add(g, 'line', {x1: x, y1: 850.4, x2: x, y2: 901, stroke: cfg.groupLine, 'stroke-width': 0.4}, 'group-cell-separator');
  }
}
oncoplot({g: document.getElementById('panelA'), left: 117.8, right: 781, cols: 95, genes: genesA, pct: pctA, muts: mutsA,
  tmb: tmbATotal, tmbMax: 5613, topShare: 0.2, spikeCols: tmbASpikeCols, spikeNonsense: tmbASpikeNonsense, spikeFrame: tmbASpikeFrame,
  axisX: 106, geneRight: 109, pctX: 784.5, sideLeft: 851.4, sideRight: 1040.4, sideMax: 23,
  sideOrder: [{type:'g',values:sideAGreen},{type:'p',values:sideAPurple},{type:'b',values:sideABlue},{type:'r',values:sideARed},{type:'y',values:sideAYellow},{type:'k',values:sideABlack}],
  groupColor: '#e8211f', groupLine: '#e92d24'});
oncoplot({g: document.getElementById('panelB'), left: 1307, right: 1970.3, cols: 149, genes: genesB, pct: pctB, muts: mutsB,
  tmb: tmbBTotal, tmbMax: 434, topShare: 0.08, spikeCols: tmbBSpikeCols, spikeNonsense: tmbBSpikeNonsense, spikeFrame: tmbBSpikeFrame, spikeIns: tmbBSpikeIns, spikeInFrame: tmbBSpikeInFrame,
  axisX: 1295.4, geneRight: 1298, pctX: 1974, sideLeft: 2041, sideRight: 2230, sideMax: 33, clip: 'url(#clipB)',
  sideOrder: [{type:'g',values:sideBGreen},{type:'r',values:sideBRed},{type:'p',values:sideBPurple},{type:'b',values:sideBBlue},{type:'y',values:sideBYellow},{type:'k',values:sideBBlack}],
  groupColor: '#2b62ae', groupLine: '#3368b1'});

/* ===== Panel C ===== */
(function () {
  const g = document.getElementById('panelC');
  const y = v => 1703 - v * 55.6;
  const cx = [278, 566];
  line(g, 105, 1260, 105, 1734, '#000', 2.5, 'y-axis-line');
  line(g, 104, 1733, 738, 1733, '#000', 2.5, 'x-axis-line');
  violinYTicks.forEach(t => {
    line(g, 99, y(t), 105, y(t), '#000', 2, 'y-axis-tick');
    label(g, 94, y(t) + 8, String(t), 22.5, 'end', null, 'y-axis-tick-label');
  });
  violinCategories.forEach((c, i) => {
    line(g, cx[i], 1733, cx[i], 1740, '#000', 2, 'x-axis-tick');
    label(g, cx[i], 1761, c, 24, 'middle', null, 'x-axis-tick-label');
  });
  const bracket = 'M' + cx[0] + ' 1294V1282H' + cx[1] + 'V1292';
  add(g, 'path', {d: bracket, fill: 'none', stroke: '#444', 'stroke-width': 1.6}, 'significance-bracket');
  function violin(center, vals, dens, maxHalf, fill, name) {
    const right = vals.map((v, i) => [center + dens[i] * maxHalf, y(v)]);
    const left = vals.map((v, i) => [center - dens[i] * maxHalf, y(v)]).reverse();
    const pts = right.concat(left);
    let d = 'M' + pts[0][0] + ' ' + pts[0][1];
    for (let i = 1; i < pts.length - 1; i++) {
      const mx = (pts[i][0] + pts[i + 1][0]) / 2, my = (pts[i][1] + pts[i + 1][1]) / 2;
      d += 'Q' + pts[i][0] + ' ' + pts[i][1] + ' ' + mx + ' ' + my;
    }
    d += 'L' + pts[pts.length - 1][0] + ' ' + pts[pts.length - 1][1] + 'Z';
    add(g, 'path', {d, fill, stroke: '#111', 'stroke-width': 2}, name);
  }
  violin(cx[0], violinLowValue, violinLowDensity, 150, '#2e64ae', 'violin-low-risk');
  violin(cx[1], violinHighValue, violinHighDensity, 143, '#e81f20', 'violin-high-risk');
  function box(center, b, outs, name) {
    line(g, center, y(b[3]), center, y(b[4]), '#000', 2.8, name + '-whisker');
    add(g, 'rect', {x: center - 29, y: y(b[2]), width: 58, height: y(b[0]) - y(b[2]), fill: '#fff', stroke: '#111', 'stroke-width': 2}, name + '-box');
    line(g, center - 28, y(b[1]), center + 28, y(b[1]), '#000', 4.5, name + '-median');
    outs.forEach(v => add(g, 'circle', {cx: center, cy: y(v), r: 5.5, fill: '#000'}, name + '-outlier'));
  }
  box(cx[0], violinLowBox, violinLowOutliers, 'low-risk');
  box(cx[1], violinHighBox, violinHighOutliers, 'high-risk');
})();

/* ===== Survival panels ===== */
function stepAt(times, surv, t) {
  let s = surv[0];
  for (let i = 0; i < times.length; i++) { if (times[i] <= t) s = surv[i]; }
  return s;
}
function kmCurve(g, xs, ys, times, surv, end, censor, color, name) {
  let d = 'M' + xs(times[0]) + ' ' + ys(surv[0]);
  for (let i = 1; i < times.length; i++) d += 'H' + xs(times[i]) + 'V' + ys(surv[i]);
  d += 'H' + xs(end);
  add(g, 'path', {d, fill: 'none', stroke: color, 'stroke-width': 3.5}, 'km-curve-' + name);
  censor.concat([end]).forEach(t => {
    const y = ys(stepAt(times, surv, t));
    add(g, 'line', {x1: xs(t), y1: y - 6, x2: xs(t), y2: y + 6, stroke: color, 'stroke-width': 2.3}, 'censor-mark-' + name);
  });
}
function survivalFrame(g, o) {
  line(g, o.ax, o.top, o.ax, o.bottom + 1, '#000', 2.2, 'y-axis-line');
  line(g, o.ax - 1, o.bottom, o.right, o.bottom, '#000', 2.2, 'x-axis-line');
  survTicks.forEach((t, i) => {
    line(g, o.ax - 5, o.ys(t), o.ax, o.ys(t), '#000', 2, 'y-axis-tick');
    label(g, o.ax - 8, o.ys(t) + 6.5, survTickLabels[i], 17.6, 'end', null, 'y-axis-tick-label');
  });
  yearTicks.forEach(t => {
    line(g, o.xs(t), o.bottom, o.xs(t), o.bottom + 5, '#000', 2, 'x-axis-tick');
    label(g, o.xs(t), o.bottom + 21, String(t), 18, 'middle', null, 'x-axis-tick-label');
    line(g, o.xs(t), o.tBottom, o.xs(t), o.tBottom + 5, '#000', 2, 'risk-table-x-tick');
    label(g, o.xs(t), o.tBottom + 21, String(t), 18, 'middle', null, 'risk-table-x-tick-label');
  });
  line(g, o.ax, o.tTop, o.ax, o.tBottom + 1, '#000', 2.2, 'risk-table-y-axis');
  line(g, o.ax - 1, o.tBottom, o.right, o.tBottom, '#000', 2.2, 'risk-table-x-axis');
}
function riskRow(g, o, y, lab, vals, color, name) {
  line(g, o.ax - 5, y, o.ax, y, '#000', 2, 'risk-table-y-tick');
  label(g, o.ax - 9, y + 3, lab, 17.7, 'end', color, 'risk-row-label-' + name);
  vals.forEach((v, i) => label(g, o.xs(yearTicks[i]), y + 7, String(v), 18.9, 'middle', color, 'risk-count-' + name));
}
const RED = '#e8211f', BLUE = '#2e64ae', PURPLE = '#6d4f96', GREEN = '#7cc36b';
(function () {
  const g = document.getElementById('panelD');
  const o = {ax: 977.3, top: 1152, bottom: 1565, right: 1532, tTop: 1662, tBottom: 1751,
    xs: t => 1002.5 + t * 40.3, ys: s => 1546 - s * 375};
  survivalFrame(g, o);
  kmCurve(g, o.xs, o.ys, dHighTime, dHighSurv, dHighEnd, dHighCensor, RED, 'h-tmb');
  kmCurve(g, o.xs, o.ys, dLowTime, dLowSurv, dLowEnd, dLowCensor, BLUE, 'l-tmb');
  [[1212, RED, 'h-tmb'], [1238, BLUE, 'l-tmb']].forEach(e => {
    line(g, 1381, e[0], 1401, e[0], e[1], 3.5, 'legend-line-' + e[2]);
    line(g, 1391, e[0] - 5, 1391, e[0] + 5, e[1], 2, 'legend-mark-' + e[2]);
  });
  riskRow(g, o, 1687, 'H−TMB', riskDHigh, RED, 'h-tmb');
  riskRow(g, o, 1727, 'L−TMB', riskDLow, BLUE, 'l-tmb');
})();
(function () {
  const g = document.getElementById('panelE');
  const o = {ax: 1784, top: 1144.5, bottom: 1557.5, right: 2261, tTop: 1655, tBottom: 1744,
    xs: t => 1806 + t * 34.67, ys: s => 1539 - s * 375};
  survivalFrame(g, o);
  kmCurve(g, o.xs, o.ys, eRedTime, eRedSurv, eRedEnd, eRedCensor, RED, 'h-tmb-high-risk');
  kmCurve(g, o.xs, o.ys, eBlueTime, eBlueSurv, eBlueEnd, eBlueCensor, BLUE, 'h-tmb-low-risk');
  kmCurve(g, o.xs, o.ys, ePurpleTime, ePurpleSurv, ePurpleEnd, ePurpleCensor, PURPLE, 'l-tmb-high-risk');
  kmCurve(g, o.xs, o.ys, eGreenTime, eGreenSurv, eGreenEnd, eGreenCensor, GREEN, 'l-tmb-low-risk');
  [[1180, RED, 'h-tmb-high-risk'], [1205, BLUE, 'h-tmb-low-risk'], [1231, PURPLE, 'l-tmb-high-risk'], [1257, GREEN, 'l-tmb-low-risk']].forEach(e => {
    line(g, 2093, e[0], 2114, e[0], e[1], 3.5, 'legend-line-' + e[2]);
    line(g, 2103.5, e[0] - 5, 2103.5, e[0] + 5, e[1], 2, 'legend-mark-' + e[2]);
  });
  riskRow(g, o, 1668, 'H−TMB+high risk', riskEHighHigh, RED, 'h-tmb-high-risk');
  riskRow(g, o, 1689, 'H−TMB+low risk', riskEHighLow, BLUE, 'h-tmb-low-risk');
  riskRow(g, o, 1711, 'L−TMB+high risk', riskELowHigh, PURPLE, 'l-tmb-high-risk');
  riskRow(g, o, 1732, 'L−TMB+low risk', riskELowLow, GREEN, 'l-tmb-low-risk');
})();

/* ===== Panel F ===== */
(function () {
  const g = document.getElementById('panelF');
  const y = v => 2744.4 - v * 102.7;
  const cx = [428, 861.6], unit = 433.8;
  line(g, 168, 1925, 168, 2785.5, '#000', 3, 'y-axis-line');
  line(g, 166.5, 2784, 1124, 2784, '#000', 3, 'x-axis-line');
  msiTicks.forEach(t => {
    line(g, 160, y(t), 168, y(t), '#000', 2.5, 'y-axis-tick');
    label(g, 152, y(t) + 10, String(t), 28, 'end', null, 'y-axis-tick-label');
  });
  msiCategories.forEach((c, i) => {
    line(g, cx[i], 2784, cx[i], 2792, '#000', 2.5, 'x-axis-tick');
    label(g, cx[i], 2821, c, 28.3, 'middle', null, 'x-axis-tick-label');
  });
  line(g, 297, y(msiHighMedian), 559, y(msiHighMedian), '#333', 6, 'box-high-tmb-median');
  line(g, 732, y(msiLowMedian), 992, y(msiLowMedian), '#333', 6, 'box-low-tmb-median');
  msiHighPoints.forEach(p => add(g, 'circle', {cx: cx[0] + p[0] / 100 * unit, cy: y(p[1]), r: 6.8, fill: '#c8201f', 'fill-opacity': .8}, 'point-high-tmb'));
  msiLowPoints.forEach(p => add(g, 'circle', {cx: cx[1] + p[0] / 100 * unit, cy: y(p[1]), r: 6.8, fill: '#2273b3', 'fill-opacity': .85}, 'point-low-tmb'));
})();

/* ===== Panel G ===== */
(function () {
  const g = document.getElementById('panelG');
  const y = v => 2749 - v * 77.3;
  const cx = [1618, 2033], unit = 415;
  line(g, 1369, 1925, 1369, 2784.5, '#000', 3, 'y-axis-line');
  line(g, 1367.5, 2783, 2284, 2783, '#000', 3, 'x-axis-line');
  pdTicks.forEach((t, i) => {
    line(g, 1361, y(t), 1369, y(t), '#000', 2.5, 'y-axis-tick');
    label(g, 1351, y(t) + 10, pdTickLabels[i], 28.6, 'end', null, 'y-axis-tick-label');
  });
  pdCategories.forEach((c, i) => {
    line(g, cx[i], 2783, cx[i], 2791, '#000', 2.5, 'x-axis-tick');
    label(g, cx[i], 2819.5, c, 28.8, 'middle', null, 'x-axis-tick-label');
  });
  function box(c, b, fill, name) {
    line(g, c, y(b[3]), c, y(b[0]), '#3a3a3a', 3, name + '-lower-whisker');
    line(g, c, y(b[2]), c, y(b[4]), '#3a3a3a', 3, name + '-upper-whisker');
    add(g, 'rect', {x: c - 125, y: y(b[2]), width: 250, height: y(b[0]) - y(b[2]), fill, stroke: '#3a3a3a', 'stroke-width': 3.2}, name + '-box');
    line(g, c - 125, y(b[1]), c + 125, y(b[1]), '#3a3a3a', 6, name + '-median');
  }
  box(cx[0], pdHighBox, '#d92626', 'high-tmb');
  box(cx[1], pdLowBox, '#1d76b8', 'low-tmb');
  pdHighPoints.forEach(p => add(g, 'circle', {cx: cx[0] + p[0] / 100 * unit, cy: y(p[1]), r: 7, fill: '#150e0b', 'fill-opacity': .87}, 'point-high-tmb'));
  pdLowPoints.forEach(p => add(g, 'circle', {cx: cx[1] + p[0] / 100 * unit, cy: y(p[1]), r: 7, fill: '#150e0b', 'fill-opacity': .87}, 'point-low-tmb'));
})();
</script>
</body>
</html>
